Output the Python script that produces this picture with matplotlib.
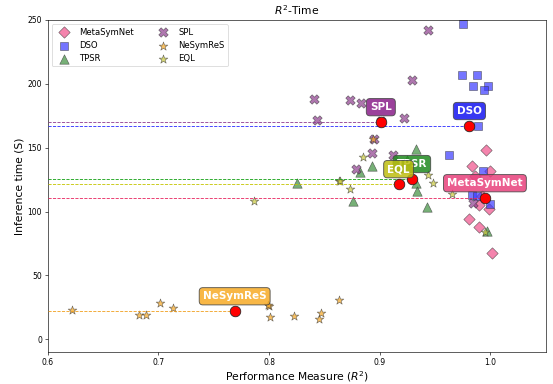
#!/usr/bin/env python3
"""R^2 vs inference time scatter for symbolic regression methods."""
import matplotlib
matplotlib.use("Agg")
import matplotlib.pyplot as plt

methods = ["MetaSymNet", "DSO", "TPSR", "SPL", "NeSymReS", "EQL"]

meta_r2 = [0.996, 0.983, 1.000, 0.999, 0.981, 0.990, 1.001, 0.986, 0.992, 0.990]
meta_time = [148, 136, 132, 102, 94, 88, 67.5, 128, 112, 105]
dso_r2 = [0.975, 0.974, 0.988, 0.984, 0.998, 0.994, 0.989, 0.963, 0.993, 0.983, 1.000, 0.988]
dso_time = [247, 207, 207, 198, 198, 195, 167, 144, 132, 113, 106, 112]
tpsr_r2 = [0.825, 0.933, 0.893, 0.882, 0.933, 0.934, 0.876, 0.943, 0.997, 0.925]
tpsr_time = [122, 149, 136, 131, 122, 116, 108, 103.5, 85, 140]
spl_r2 = [0.944, 0.929, 0.841, 0.873, 0.883, 0.843, 0.922, 0.895, 0.893, 0.879, 0.912, 0.984, 0.901]
spl_time = [242, 203, 188, 187, 185, 172, 173, 156.5, 146, 133, 144, 107, 171]
nesym_r2 = [0.622, 0.683, 0.689, 0.702, 0.713, 0.800, 0.801, 0.823, 0.845, 0.847, 0.863, 0.894, 0.799]
nesym_time = [23, 19.3, 19.3, 28.7, 24.5, 25.8, 17.5, 18.5, 16, 20.5, 30.5, 157, 27]
eql_r2 = [0.786, 0.863, 0.885, 0.864, 0.873, 0.944, 0.948, 0.965, 0.995]
eql_time = [108, 124, 143, 124, 118, 129, 122, 114, 84]

mean_r2 = [0.995, 0.981, 0.929, 0.901, 0.769, 0.917]
mean_time = [110.5, 167, 125.5, 170, 22, 121.5]

point_colors = ["#f0508a", "#3b3bff", "#3d8f3d", "#8e3d8e", "#f5a623", "#c8c83a"]
line_colors = ["#e8245e", "#2a2aff", "#11a011", "#8f3a8f", "#f0a020", "#c4c400"]
box_colors = ["#e8407c", "#1515f0", "#1f8a1f", "#8a1f8a", "#f7ab25", "#bdbd10"]
markers = ["D", "s", "^", "X", "*", "*"]
sizes = [110, 130, 150, 150, 140, 140]

xs = [meta_r2, dso_r2, tpsr_r2, spl_r2, nesym_r2, eql_r2]
ys = [meta_time, dso_time, tpsr_time, spl_time, nesym_time, eql_time]

fig = plt.figure(figsize=(10, 384 / 55.3), dpi=55.3)
ax = fig.add_axes([0.086, 0.083, 0.901, 0.865])

for name, x, y, c, m, s in zip(methods, xs, ys, point_colors, markers, sizes):
    ax.scatter(x, y, marker=m, s=s, c=c, alpha=0.7, edgecolors="#333333",
               linewidths=0.8, label=name, zorder=2)

for name, mx, my, lc, bc in zip(methods, mean_r2, mean_time, line_colors, box_colors):
    ax.plot([0.6, mx], [my, my], ls="--", color=lc, lw=1.1, zorder=3)
    ax.scatter([mx], [my], s=190, c="red", edgecolors="#222222", linewidths=1.0, zorder=4)
    ax.annotate(name, (mx, my), xytext=(0, 19.5), textcoords="offset points",
                ha="center", va="center", fontsize=13.5, fontweight="bold", color="white",
                bbox=dict(boxstyle="round,pad=0.35", fc=bc, ec="#444444", alpha=0.85, lw=1.2),
                zorder=5)

ax.set_xlim(0.6, 1.05)
ax.set_ylim(-10, 250)
ax.set_xticks([0.6, 0.7, 0.8, 0.9, 1.0])
ax.set_yticks([0, 50, 100, 150, 200, 250])
ax.tick_params(labelsize=10)
ax.set_xlabel("Performance Measure ($R^2$)", fontsize=14, labelpad=3)
ax.set_ylabel("Inference time (S)", fontsize=14)
ax.set_title("$R^2$-Time", fontsize=14)
ax.legend(loc="upper left", ncol=2, fontsize=11, markerscale=1.0, columnspacing=2.5)

fig.savefig("out.png", dpi=55.3)
